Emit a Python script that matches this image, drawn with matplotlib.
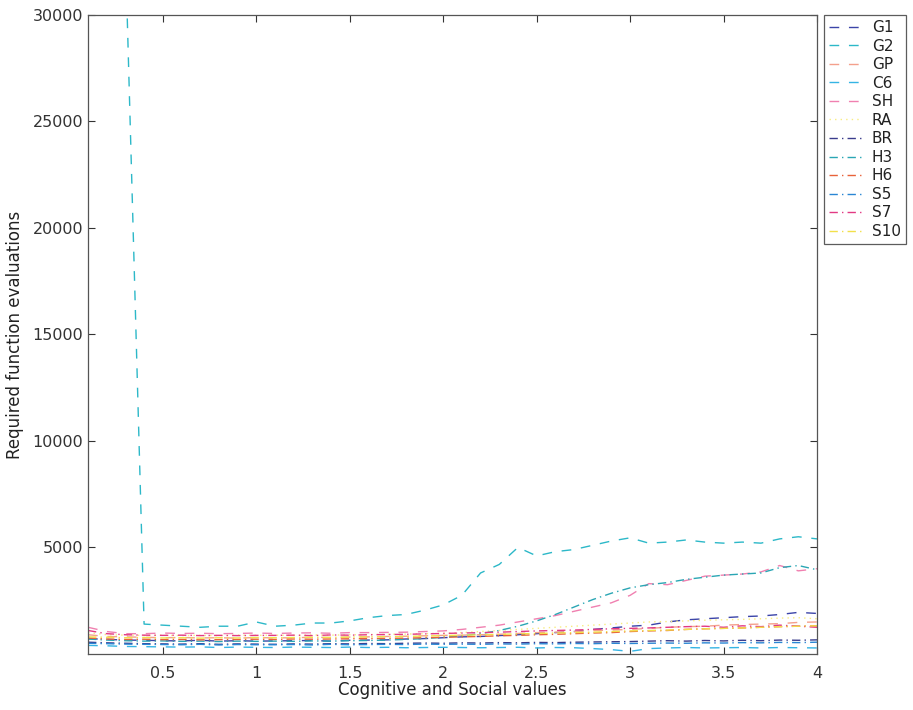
import numpy as np
import matplotlib
matplotlib.use('Agg')
import matplotlib.pyplot as plt

plt.rcParams['font.family'] = ['DejaVu Sans']

# Valeurs des paramètres cognitif / social
x = np.round(np.arange(1, 41) * 0.1, 1)

# Nombre d'évaluations requises par fonction test
G1 = [720, 680, 650, 640, 620, 610, 640, 600, 620, 600,
      610, 620, 630, 600, 640, 650, 660, 700, 720, 760,
      800, 820, 860, 900, 950, 1000, 1050, 1150, 1220, 1300,
      1350, 1500, 1600, 1650, 1700, 1750, 1780, 1850, 1950, 1900]
G2 = [60000, 45000, 33000, 1400, 1350, 1300, 1250, 1300, 1300, 1500,
      1300, 1350, 1450, 1450, 1550, 1700, 1800, 1850, 2050, 2300,
      2750, 3800, 4200, 5000, 4600, 4800, 4900, 5100, 5300, 5450,
      5200, 5250, 5350, 5250, 5200, 5250, 5200, 5400, 5500, 5400]
GP = [900, 820, 800, 780, 760, 770, 750, 760, 740, 770,
      750, 760, 780, 770, 790, 800, 820, 830, 850, 870,
      880, 900, 920, 960, 1000, 1020, 1050, 1100, 1120, 1150,
      1200, 1250, 1280, 1300, 1350, 1380, 1400, 1420, 1480, 1500]
C6 = [400, 380, 350, 340, 330, 320, 330, 300, 320, 310,
      300, 320, 310, 300, 320, 300, 310, 290, 300, 310,
      300, 290, 300, 310, 280, 300, 290, 250, 200, 120,
      250, 280, 300, 280, 290, 300, 280, 300, 290, 280]
SH = [1250, 1050, 950, 950, 980, 960, 970, 950, 960, 980,
      960, 980, 990, 970, 1000, 1000, 1010, 1020, 1050, 1080,
      1150, 1250, 1350, 1500, 1650, 1800, 2000, 2200, 2400, 2750,
      3300, 3250, 3450, 3650, 3700, 3750, 3850, 4150, 3900, 4000]
RA = [1000, 900, 880, 870, 880, 860, 870, 860, 880, 870,
      880, 870, 890, 880, 900, 910, 920, 930, 950, 970,
      1000, 1050, 1100, 1150, 1200, 1250, 1300, 1350, 1400, 1450,
      1500, 1520, 1550, 1580, 1600, 1620, 1650, 1680, 1700, 1650]
BR = [550, 520, 500, 480, 470, 460, 480, 450, 470, 460,
      450, 470, 460, 480, 470, 490, 480, 500, 510, 500,
      520, 510, 530, 520, 540, 530, 550, 560, 570, 580,
      600, 620, 600, 630, 610, 640, 620, 650, 640, 660]
H3 = [700, 650, 620, 600, 610, 590, 600, 580, 600, 590,
      600, 590, 610, 600, 620, 630, 650, 680, 720, 780,
      850, 950, 1100, 1300, 1550, 1850, 2200, 2550, 2850, 3100,
      3250, 3350, 3500, 3600, 3700, 3750, 3800, 4050, 4150, 3950]
H6 = [750, 700, 680, 690, 670, 680, 660, 670, 680, 690,
      680, 700, 690, 700, 710, 720, 730, 740, 760, 780,
      800, 820, 850, 870, 900, 920, 950, 980, 1000, 1050,
      1080, 1100, 1150, 1180, 1200, 1220, 1250, 1280, 1300, 1320]
S5 = [500, 480, 460, 450, 440, 430, 450, 420, 440, 430,
      430, 440, 420, 450, 430, 440, 450, 440, 460, 450,
      460, 450, 470, 460, 480, 470, 490, 480, 500, 490,
      500, 510, 500, 520, 510, 530, 520, 540, 530, 550]
S7 = [1100, 950, 900, 880, 870, 880, 860, 870, 860, 870,
      870, 880, 860, 890, 880, 900, 910, 920, 940, 960,
      980, 1000, 1020, 1050, 1080, 1100, 1120, 1150, 1180, 1200,
      1220, 1250, 1280, 1300, 1250, 1320, 1280, 1350, 1300, 1250]
S10 = [800, 780, 760, 770, 750, 760, 740, 760, 750, 770,
       760, 770, 780, 770, 790, 800, 810, 820, 840, 860,
       880, 900, 920, 940, 960, 980, 1000, 1020, 1050, 1080,
       1100, 1120, 1150, 1180, 1200, 1220, 1250, 1280, 1300, 1320]

labels = ['G1', 'G2', 'GP', 'C6', 'SH', 'RA', 'BR', 'H3', 'H6', 'S5', 'S7', 'S10']
series = [G1, G2, GP, C6, SH, RA, BR, H3, H6, S5, S7, S10]
couleurs = ['#3b44a8', '#2cb8c8', '#f4a08c', '#35b4e4', '#f080b0', '#f8ec80',
            '#3a3c8c', '#2aa6b4', '#e8623a', '#2a86d4', '#e23a84', '#f2e04a']
# tirets longs façon MATLAB
tirets = {'--': (7, 7), ':': (1, 3), '-.': (6, 3, 1, 3)}
styles = ['--', '--', '--', '--', '--', ':', '-.', '-.', '-.', '-.', '-.', '-.']

fig = plt.figure(figsize=(9.13, 7.10), dpi=100)
ax = fig.add_axes([0.0964, 0.079, 0.7985, 0.900])

for y, lab, c, ls in zip(series, labels, couleurs, styles):
    ax.plot(x, y, color=c, linewidth=1.0, dashes=tirets[ls], label=lab)

ax.set_xlim(0.1, 4)
ax.set_ylim(0, 30000)
ax.set_xticks([0.5, 1, 1.5, 2, 2.5, 3, 3.5, 4])
ax.set_xticklabels(['0.5', '1', '1.5', '2', '2.5', '3', '3.5', '4'])
ax.set_yticks([5000, 10000, 15000, 20000, 25000, 30000])
ax.tick_params(direction='in', top=True, right=True, length=5, width=0.8,
               labelsize=11.5, colors='#333333')
ax.tick_params(axis='x', pad=9)
for sp in ax.spines.values():
    sp.set_color('#555555')
    sp.set_linewidth(0.9)

ax.set_xlabel('Cognitive and Social values', fontsize=12, color='#222222', labelpad=0)
ax.set_ylabel('Required function evaluations', fontsize=12, color='#222222', labelpad=6)

leg = ax.legend(loc='upper left', bbox_to_anchor=(0.902, 0.979),
                bbox_transform=fig.transFigure, fontsize=11, frameon=True,
                fancybox=False, edgecolor='#333333', borderpad=0.35,
                labelspacing=0.23, handlelength=2.1, handletextpad=0.7,
                borderaxespad=0)
leg.get_frame().set_linewidth(0.9)
for t in leg.get_texts():
    t.set_color('#222222')

fig.savefig('out.png', dpi=100)
